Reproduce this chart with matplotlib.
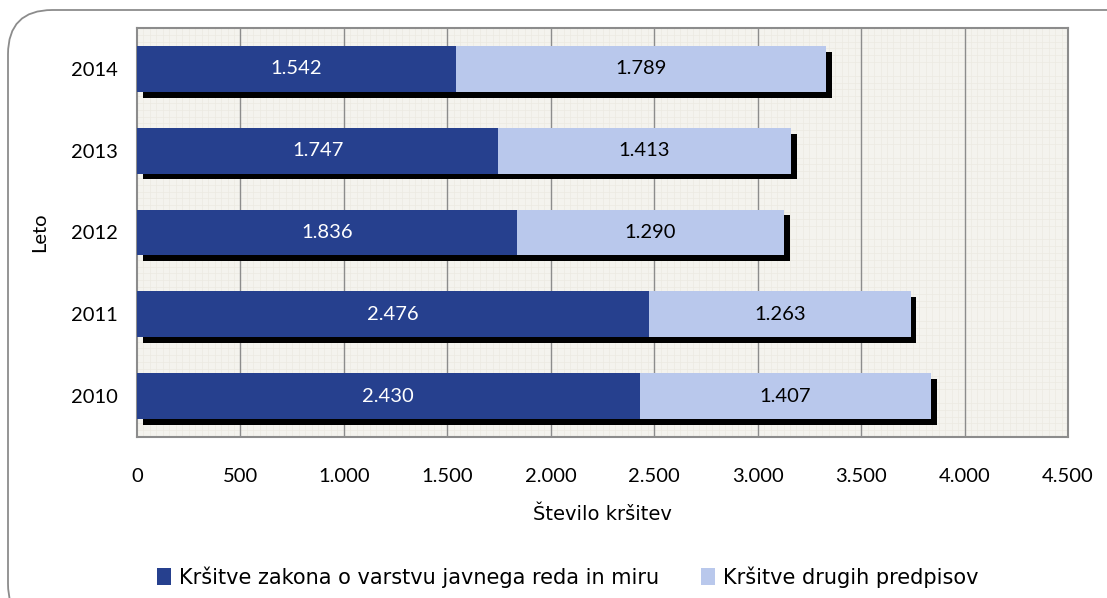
import matplotlib
matplotlib.use("Agg")
import matplotlib.pyplot as plt
import numpy as np
from matplotlib.transforms import ScaledTranslation
from matplotlib.patches import FancyBboxPatch, Patch

years = ["2010", "2011", "2012", "2013", "2014"]
zakon = [2430, 2476, 1836, 1747, 1542]
drugi = [1407, 1263, 1290, 1413, 1789]
xticks = [0, 500, 1000, 1500, 2000, 2500, 3000, 3500, 4000, 4500]
xtick_labels = ["0", "500", "1.000", "1.500", "2.000", "2.500", "3.000", "3.500", "4.000", "4.500"]
series_names = ["Kršitve zakona o varstvu javnega reda in miru", "Kršitve drugih predpisov"]

c_dark = "#26408E"
c_light = "#B9C8EC"

plt.rcParams['font.family'] = ['Lato', 'DejaVu Sans']

fig = plt.figure(figsize=(11.07, 5.98), dpi=100)
border = FancyBboxPatch((8/1107, -0.05), 1.2, 1.05 - 10/598, transform=fig.transFigure,
                        boxstyle="round,pad=0,rounding_size=0.04", mutation_aspect=1107/598,
                        facecolor="white", edgecolor="#8C8C8C", linewidth=1.3, zorder=-10)
fig.patches.append(border)

ax = fig.add_axes([137/1107, 1 - 437/598, (1068 - 137)/1107, (437 - 28)/598])
ax.set_facecolor("#F4F3EE")

y = np.arange(len(years))
h = 0.56
tot = [a + b for a, b in zip(zakon, drugi)]
shadow_tr = ax.transData + ScaledTranslation(4.2/72, -4.2/72, fig.dpi_scale_trans)
ax.barh(y, tot, height=h, color="black", transform=shadow_tr, zorder=2)
b1 = ax.barh(y, zakon, height=h, color=c_dark, zorder=3)
b2 = ax.barh(y, drugi, left=zakon, height=h, color=c_light, zorder=3)

for i in range(len(years)):
    ax.text(zakon[i] / 2, y[i], f"{zakon[i]/1000:.3f}", ha="center", va="center",
            color="white", fontsize=14.5, zorder=4)
    ax.text(zakon[i] + drugi[i] / 2, y[i], f"{drugi[i]/1000:.3f}", ha="center", va="center",
            color="black", fontsize=14.5, zorder=4)

ax.set_xlim(0, 4500)
ax.set_ylim(-0.5, len(years) - 0.5)
ax.set_xticks(xticks)
ax.set_xticklabels(xtick_labels, fontsize=14.5)
ax.set_yticks(y)
ax.set_yticklabels(years, fontsize=14.5)
ax.tick_params(length=0, pad=14)
ax.tick_params(axis='x', pad=22)

ax.set_xticks(np.arange(0, 4501, 31.25), minor=True)
ax.set_yticks(np.arange(-0.5, len(years) - 0.5, 1/12), minor=True)
ax.tick_params(which='minor', length=0)
ax.grid(which='minor', color="#ECEAE2", linewidth=0.5)
ax.grid(which='major', visible=False)
ax.set_axisbelow(True)
ax.vlines(xticks[1:-1], -0.5, len(years) - 0.5, colors="#8C8C8C", linewidth=1.0, zorder=1)
for s in ax.spines.values():
    s.set_color("#8C8C8C")
    s.set_linewidth(1.5)

ax.set_xlabel("Število kršitev", fontsize=14, labelpad=15, family=['DejaVu Sans'])
ax.set_ylabel("Leto", fontsize=14.5, labelpad=16)

handles = [Patch(facecolor=c_dark), Patch(facecolor=c_light)]
fig.legend(handles, series_names, loc="center", bbox_to_anchor=(568/1107, 1 - 577/598),
           ncol=2, frameon=False, prop={'family': ['DejaVu Sans'], 'size': 15},
           handlelength=0.65, handleheight=0.85, handletextpad=0.4, columnspacing=2.0)

fig.savefig("out.png", dpi=100)
